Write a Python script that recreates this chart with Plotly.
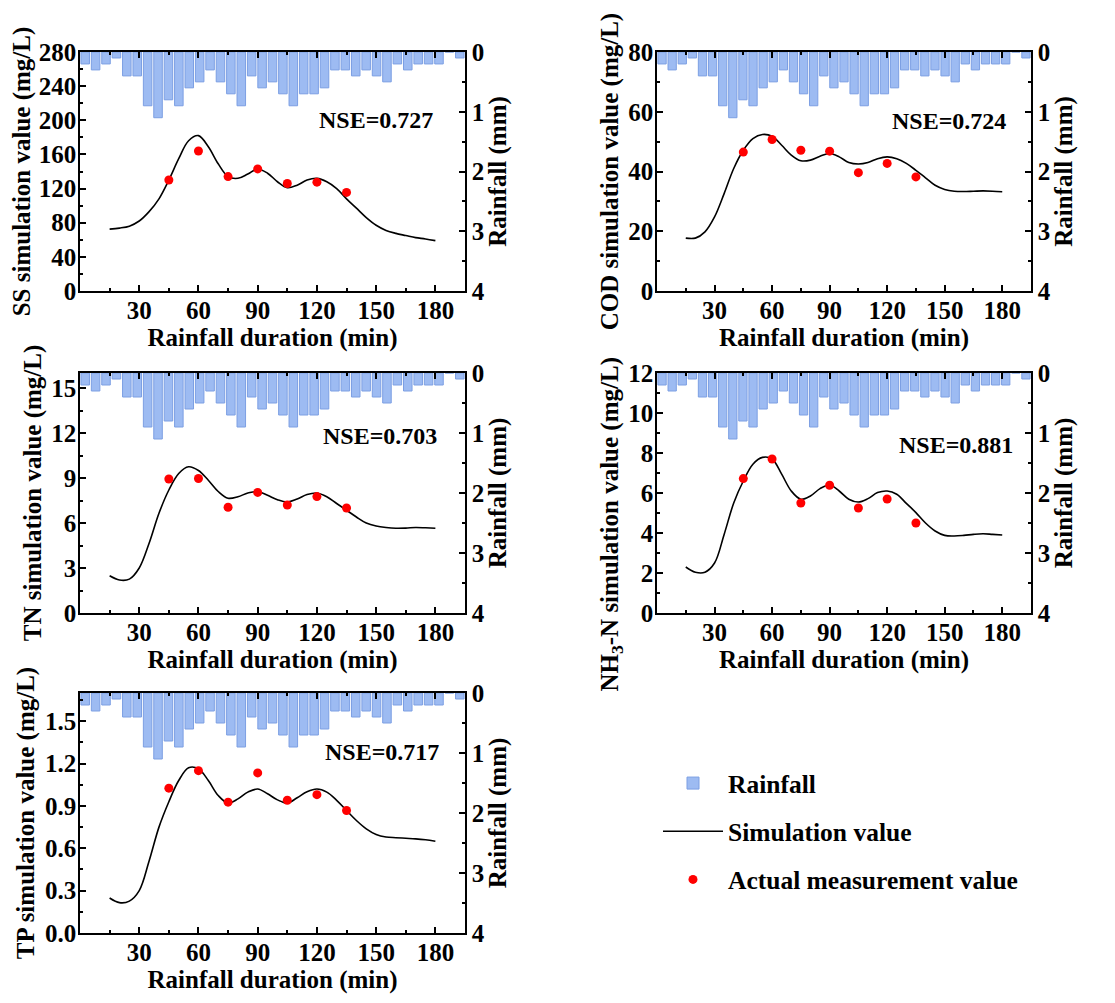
import plotly.graph_objects as go

# ---------------- data ----------------
rain_interval = list(range(1, 38))
rainfall_mm = [0.2, 0.3, 0.2, 0.1, 0.4, 0.4, 0.9, 1.1, 0.8, 0.9, 0.6, 0.5,
               0.3, 0.5, 0.7, 0.9, 0.4, 0.6, 0.5, 0.7, 0.9, 0.7, 0.7, 0.6,
               0.3, 0.3, 0.4, 0.3, 0.4, 0.5, 0.2, 0.3, 0.2, 0.2, 0.2, 0.0, 0.1]

sim_time = list(range(15, 181, 5))
ss_sim = [72.5, 73.7, 76, 82, 93, 108, 130, 155, 176, 182, 169, 149, 134, 132, 137, 143,
          138, 128, 121, 124, 130, 132, 128, 120, 108, 97, 86, 77, 71, 67.5, 65, 62.5, 61, 59]
cod_sim = [17.7, 17.7, 19.8, 24.8, 32.6, 41, 47.1, 51, 52.4, 51.8, 48.8, 45.5, 43.6, 43.8, 45.1, 46,
           44.9, 43, 42.5, 43, 44.3, 44.9, 44.3, 42.7, 40.4, 37.9, 35.4, 34, 33.4, 33.3, 33.4, 33.5, 33.4, 33.2]
tn_sim = [2.48, 2.2, 2.26, 3.0, 4.65, 6.65, 8.2, 9.3, 9.75, 9.5, 8.85, 8.1, 7.65, 7.75, 8.0, 8.1,
          7.85, 7.55, 7.4, 7.6, 7.9, 8.0, 7.75, 7.3, 6.85, 6.4, 6.0, 5.8, 5.7, 5.65, 5.66, 5.7, 5.68, 5.65]
nh3_sim = [2.3, 2.04, 2.04, 2.5, 3.93, 5.5, 6.6, 7.44, 7.78, 7.7, 6.94, 6.1, 5.69, 5.85, 6.22, 6.4,
           6.1, 5.69, 5.55, 5.72, 6.02, 6.1, 5.94, 5.48, 5.02, 4.5, 4.1, 3.88, 3.85, 3.88, 3.93, 3.96, 3.93, 3.9]
tp_sim = [0.248, 0.215, 0.226, 0.30, 0.51, 0.75, 0.93, 1.08, 1.17, 1.163, 1.08, 0.974, 0.92, 0.95, 0.998, 1.02,
          0.986, 0.943, 0.92, 0.958, 1.0, 1.02, 0.998, 0.94, 0.868, 0.797, 0.738, 0.698, 0.68, 0.675, 0.671, 0.667, 0.66, 0.65]

meas_time = [45, 60, 75, 90, 105, 120, 135]
ss_meas = [130, 164, 134, 143, 126, 127.5, 115.5]
cod_meas = [46.5, 50.7, 47.1, 46.8, 39.6, 42.7, 38.2]
tn_meas = [8.93, 8.97, 7.05, 8.04, 7.2, 7.76, 7.0]
nh3_meas = [6.72, 7.7, 5.5, 6.39, 5.25, 5.7, 4.5]
tp_meas = [1.026, 1.15, 0.927, 1.134, 0.94, 0.98, 0.868]

nse_labels = ["NSE=0.727", "NSE=0.724", "NSE=0.703", "NSE=0.881", "NSE=0.717"]
y_titles = ["SS simulation value (mg/L)", "COD simulation value (mg/L)", "TN simulation value (mg/L)",
            "NH<sub>3</sub>-N simulation value (mg/L)" + "&nbsp;" * 10, "TP simulation value (mg/L)"]
y_ranges = [[0, 280], [0, 80], [0, 16], [0, 12], [0, 1.7]]
y_dticks = [40, 20, 3, 2, 0.3]
y_formats = ["d", "d", "d", "d", ".1f"]
nse_pos = [(150, 200), (152, 57), (152, 11.8), (156, 8.4), (153, 1.28)]
x_ticks = [30, 60, 90, 120, 150, 180]
rain_ticks = [0, 1, 2, 3, 4]

sims = [ss_sim, cod_sim, tn_sim, nh3_sim, tp_sim]
meas = [ss_meas, cod_meas, tn_meas, nh3_meas, tp_meas]

# ---------------- layout geometry (pixels, page offset 8px) ----------------
W, H = 1115, 1003
OFF = 8
col_px = [(80 - OFF, 465 - OFF), (657 - OFF, 1031 - OFF)]
row_px = [(52 - OFF, 291 - OFF), (373 - OFF, 613 - OFF), (693 - OFF, 933 - OFF)]
panel_cells = [(0, 0), (0, 1), (1, 0), (1, 1), (2, 0)]

FONT = "Liberation Serif"
FS = 25
BAR_FILL = "#9DBBF2"
BAR_EDGE = "#7C9FE3"

def tfont(size=FS):
    return dict(family=FONT, size=size, color="black", weight="bold")

fig = go.Figure()
layout = dict(
    width=W, height=H,
    margin=dict(l=0, r=0, t=0, b=0),
    paper_bgcolor="white", plot_bgcolor="rgba(0,0,0,0)",
    font=tfont(),
    annotations=[],
    legend=dict(x=650 / W, y=1 - 752 / H, xanchor="left", yanchor="top",
                font=tfont(25.5), tracegroupgap=12, itemwidth=60,
                bgcolor="rgba(0,0,0,0)"),
)

N = 5
for i in range(N):
    r, c = panel_cells[i]
    xd = [col_px[c][0] / W, col_px[c][1] / W]
    yd = [1 - row_px[r][1] / H, 1 - row_px[r][0] / H]
    k = i + 1          # main axes
    kb = i + 1 + N     # bar/rain axes
    xn = "x" if k == 1 else f"x{k}"
    yn = "y" if k == 1 else f"y{k}"
    xbn, ybn = f"x{kb}", f"y{kb}"

    axis_common = dict(showline=True, linecolor="black", linewidth=1.5,
                       ticks="inside", ticklen=6, tickwidth=1.5, tickcolor="black",
                       showgrid=False, zeroline=False, automargin=False,
                       tickfont=tfont())

    layout["xaxis" if k == 1 else f"xaxis{k}"] = dict(
        domain=xd, anchor=yn, range=[0, 195], tickvals=x_ticks, mirror="ticks",
        ticklabelstandoff=-4,
        minor=dict(dtick=15, tick0=0, ticks="inside", ticklen=3, tickwidth=1.5, tickcolor="black"),
        title=dict(text="Rainfall duration (min)", standoff=3, font=tfont()),
        **axis_common)
    layout["yaxis" if k == 1 else f"yaxis{k}"] = dict(
        domain=yd, anchor=xn, range=y_ranges[i], dtick=y_dticks[i], tick0=0,
        tickformat=y_formats[i], ticklabelstandoff=-3,
        minor=dict(dtick=y_dticks[i] / 2, tick0=0, ticks="inside", ticklen=3, tickwidth=1.5, tickcolor="black"),
        title=dict(text=y_titles[i], standoff=3, font=tfont()),
        **axis_common)
    layout[f"xaxis{kb}"] = dict(overlaying=xn, anchor=ybn, range=[0.5, 37.5], visible=False,
                                 domain=xd)
    layout[f"yaxis{kb}"] = dict(
        overlaying=yn, anchor=xbn, side="right", range=[4, 0], tickvals=rain_ticks,
        minor=dict(dtick=0.5, tick0=0, ticks="inside", ticklen=3, tickwidth=1.5, tickcolor="black"),
        title=dict(text="Rainfall (mm)", standoff=4, font=tfont()),
        **axis_common)

    show = (i == 0)
    fig.add_trace(go.Bar(x=rain_interval, y=rainfall_mm, xaxis=xbn, yaxis=ybn,
                         width=0.82, marker=dict(color=BAR_FILL, line=dict(color=BAR_EDGE, width=1)),
                         name="Rainfall", legendgroup="rain", showlegend=show))
    fig.add_trace(go.Scatter(x=sim_time, y=sims[i], xaxis=xn, yaxis=yn, mode="lines",
                             line=dict(color="black", width=1.6, shape="spline", smoothing=1.0),
                             name="Simulation value", legendgroup="sim", showlegend=show))
    fig.add_trace(go.Scatter(x=meas_time, y=meas[i], xaxis=xn, yaxis=yn, mode="markers",
                             marker=dict(color="#FF0000", size=9),
                             name="Actual measurement value", legendgroup="meas", showlegend=show))

    layout["annotations"].append(dict(
        x=nse_pos[i][0], y=nse_pos[i][1], xref=xn, yref=yn, text=nse_labels[i],
        showarrow=False, font=tfont(24)))

fig.update_layout(**layout)
fig.write_html("out.html")
